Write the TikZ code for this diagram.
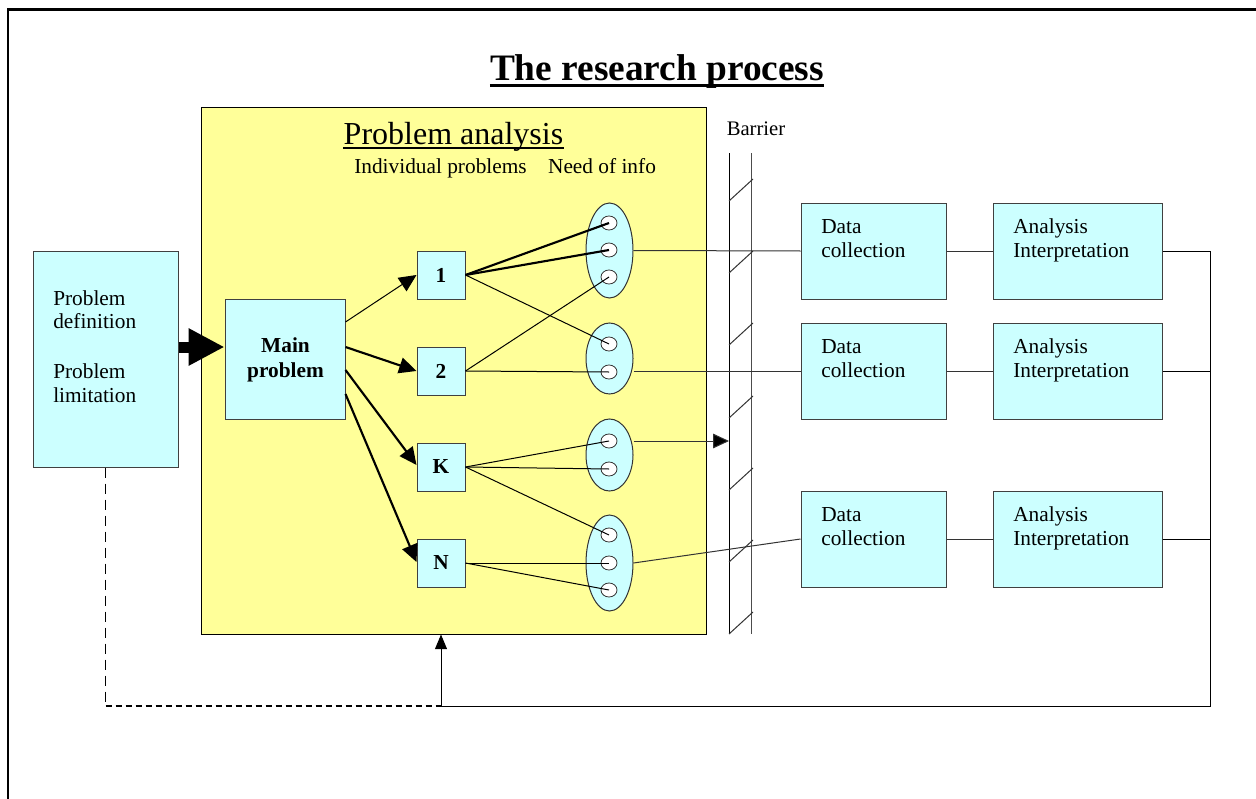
\documentclass[tikz,border=0pt]{standalone}
\usepackage{fontspec}
\setmainfont{Liberation Serif}
\usetikzlibrary{arrows.meta,shapes.geometric}
\definecolor{paleyellow}{HTML}{FFFF99}
\definecolor{palecyan}{HTML}{CCFFFF}
\begin{document}
\begin{tikzpicture}[x=0.75pt,y=-0.75pt,
  txt/.style={font=\fontsize{16}{19}\selectfont, inner sep=0},
  boldtxt/.style={font=\bfseries\fontsize{16}{19}\selectfont, inner sep=0},
  box/.style={draw=black!75, fill=palecyan, line width=0.75pt, inner sep=0},
  smallbox/.style={box, minimum width=36pt, minimum height=36pt, font=\bfseries\fontsize{16}{19}\selectfont},
  dcbox/.style={box, minimum width=108.75pt, minimum height=72pt},
  aibox/.style={box, minimum width=126.75pt, minimum height=72pt},
  needell/.style={ellipse, draw=black!80, fill=palecyan, line width=0.75pt, inner sep=0, minimum width=35.25pt},
  dot/.style={ellipse, draw=black!80, fill=white, line width=0.6pt, inner sep=0, minimum width=12pt, minimum height=10.5pt},
  thin/.style={line width=0.75pt},
  thick/.style={line width=1.6pt},
  tip/.style={-{Triangle[length=13pt,width=12pt]}}
]
\useasboundingbox (0,0) rectangle (1256,799);
\fill[white] (0,0) rectangle (1256,799);
% frame
\draw[line width=1.6pt] (8,800) -- (8,9.5) -- (1257,9.5);

% title
\node[font=\bfseries\fontsize{28}{32}\selectfont, anchor=base, inner sep=0] (title) at (657,80) {The research process};
\draw[line width=2.25pt] ([yshift=-4.5pt]title.base west) -- ([yshift=-4.5pt]title.base east);

% problem analysis area
\node[draw=black, fill=paleyellow, line width=0.75pt, minimum width=378.75pt, minimum height=395.25pt, inner sep=0] (pa) at (453.5,370.5) {};
\node[font=\fontsize{24}{28}\selectfont, anchor=base, inner sep=0] (patitle) at (453.5,144) {Problem analysis};
\draw[line width=1.1pt] ([yshift=-3pt]patitle.base west) -- ([yshift=-3pt]patitle.base east);
\node[txt, anchor=base] (indiv) at (440.5,173) {Individual problems};
\node[txt, anchor=base] (needinfo) at (602,173) {Need of info};

% left box
\node[box, minimum width=108.75pt, minimum height=162pt] (lb) at (105.5,359) {};
\node[txt, anchor=base west] (lbt1) at (53,305) {Problem};
\node[txt, anchor=base west] (lbt2) at (53,328) {definition};
\node[txt, anchor=base west] (lbt3) at (53,378) {Problem};
\node[txt, anchor=base west] (lbt4) at (53,402) {limitation};

% main problem
\node[box, minimum width=90pt, minimum height=90pt] (main) at (285,359) {};
\node[boldtxt, anchor=base] (mt1) at (285.5,352) {Main};
\node[boldtxt, anchor=base] (mt2) at (285.5,377) {problem};

% fat arrow
\draw[line width=8.25pt, -{Triangle[length=27pt,width=26.25pt]}] ([yshift=9pt]lb.east) -- ([yshift=9pt]main.west);

% individual problems
\node[smallbox] (b1) at (441,275) {1};
\node[smallbox] (b2) at (441,371) {2};
\node[smallbox] (bk) at (441,467) {K};
\node[smallbox] (bn) at (441,563) {N};

\draw[thin, tip] ([yshift=27.75pt]main.east) -- (b1.west);
\draw[thick, tip] ([yshift=9pt]main.east) -- (b2.west);
\draw[thick, tip] ([yshift=-8.25pt]main.east) -- ([yshift=1.5pt]bk.west);
\draw[thick, tip] ([yshift=-26.25pt]main.east) -- ([yshift=0.75pt]bn.west);

% need of info ellipses
\node[needell, minimum height=71.25pt] (e1) at (609.5,250.5) {};
\node[needell, minimum height=53.25pt] (e2) at (609.5,358.5) {};
\node[needell, minimum height=54pt] (e3) at (609.5,455) {};
\node[needell, minimum height=72pt] (e4) at (609.5,563) {};

\node[dot] (c1a) at (609,223) {};
\node[dot] (c1b) at (609,250) {};
\node[dot] (c1c) at (609,277) {};
\node[dot] (c2a) at (609,344) {};
\node[dot] (c2b) at (609,372) {};
\node[dot] (c3a) at (609,441) {};
\node[dot] (c3b) at (609,469) {};
\node[dot] (c4a) at (609,535) {};
\node[dot] (c4b) at (609,563) {};
\node[dot] (c4c) at (609,590) {};

\draw[thick] (b1.east) -- (c1a.center);
\draw[thick] (b1.east) -- (c1b.center);
\draw[thin] (b1.east) -- (c2a.center);
\draw[thin] (b2.east) -- (c1c.center);
\draw[thin] (b2.east) -- (c2b.center);
\draw[thin] (bk.east) -- (c3a.center);
\draw[thin] (bk.east) -- (c3b.center);
\draw[thin] (bk.east) -- (c4a.center);
\draw[thin] (bn.east) -- (c4b.center);
\draw[thin] (bn.east) -- (c4c.center);

% barrier
\node[txt, font=\fontsize{15.5}{18}\selectfont, anchor=base] (barlabel) at (756,135) {Barrier};
\draw[thin] (729,153) -- (729,634);
\draw[thin, black!70] (751,153) -- (751,634);
\foreach \yy in {179,251,323,396,468,540,612}
  \draw[thin, black!80] (729,\yy+22) -- (753,\yy);
\coordinate (barhit) at (729,441);

% data collection / analysis boxes
\node[dcbox] (dc1) at (873.5,251) {};
\node[dcbox] (dc2) at (873.5,371) {};
\node[dcbox] (dc3) at (873.5,539) {};
\node[aibox] (ai1) at (1077.5,251) {};
\node[aibox] (ai2) at (1077.5,371) {};
\node[aibox] (ai3) at (1077.5,539) {};
\foreach \n/\yy in {1/251,2/371,3/539}{
  \node[txt, anchor=base west] (dct\n a) at (821,\yy-18) {Data};
  \node[txt, anchor=base west] (dct\n b) at (821,\yy+6) {collection};
  \node[txt, anchor=base west] (ait\n a) at (1013,\yy-18) {Analysis};
  \node[txt, anchor=base west] (ait\n b) at (1013,\yy+6) {Interpretation};
}

% connectors to the right
\draw[thin, black!80] (e1.east) -- (dc1.west);
\draw[thin, black!80] (e2.east |- dc2.west) -- (dc2.west);
\draw[thin, black!80, -{Triangle[length=12pt,width=11pt,fill=black]}] (e3.east |- c3a) -- (barhit);
\draw[thin, black!80] (e4.east) -- (dc3.west);
\draw[thin, black!80] (dc1.east) -- (ai1.west);
\draw[thin, black!80] (dc2.east) -- (ai2.west);
\draw[thin, black!80] (dc3.east) -- (ai3.west);

\coordinate (r1) at (1210,251);
\coordinate (rb) at (1210,706);
\coordinate (fb) at (441,706);
\draw[thin] (ai1.east) -- (r1) -- (rb) -- (fb);
\draw[thin] (ai2.east) -- (ai2.east -| r1);
\draw[thin] (ai3.east) -- (ai3.east -| r1);
\draw[thin, -{Triangle[length=11pt,width=9pt]}] (fb) -- (fb |- pa.south);

% dashed feedback
\draw[thin, dash pattern=on 7.5pt off 4.5pt] (lb.south) -- (lb.south |- fb);
\draw[line width=1.8pt, dash pattern=on 4.5pt off 3pt] (lb.south |- fb) -- (fb);
\end{tikzpicture}
\end{document}
